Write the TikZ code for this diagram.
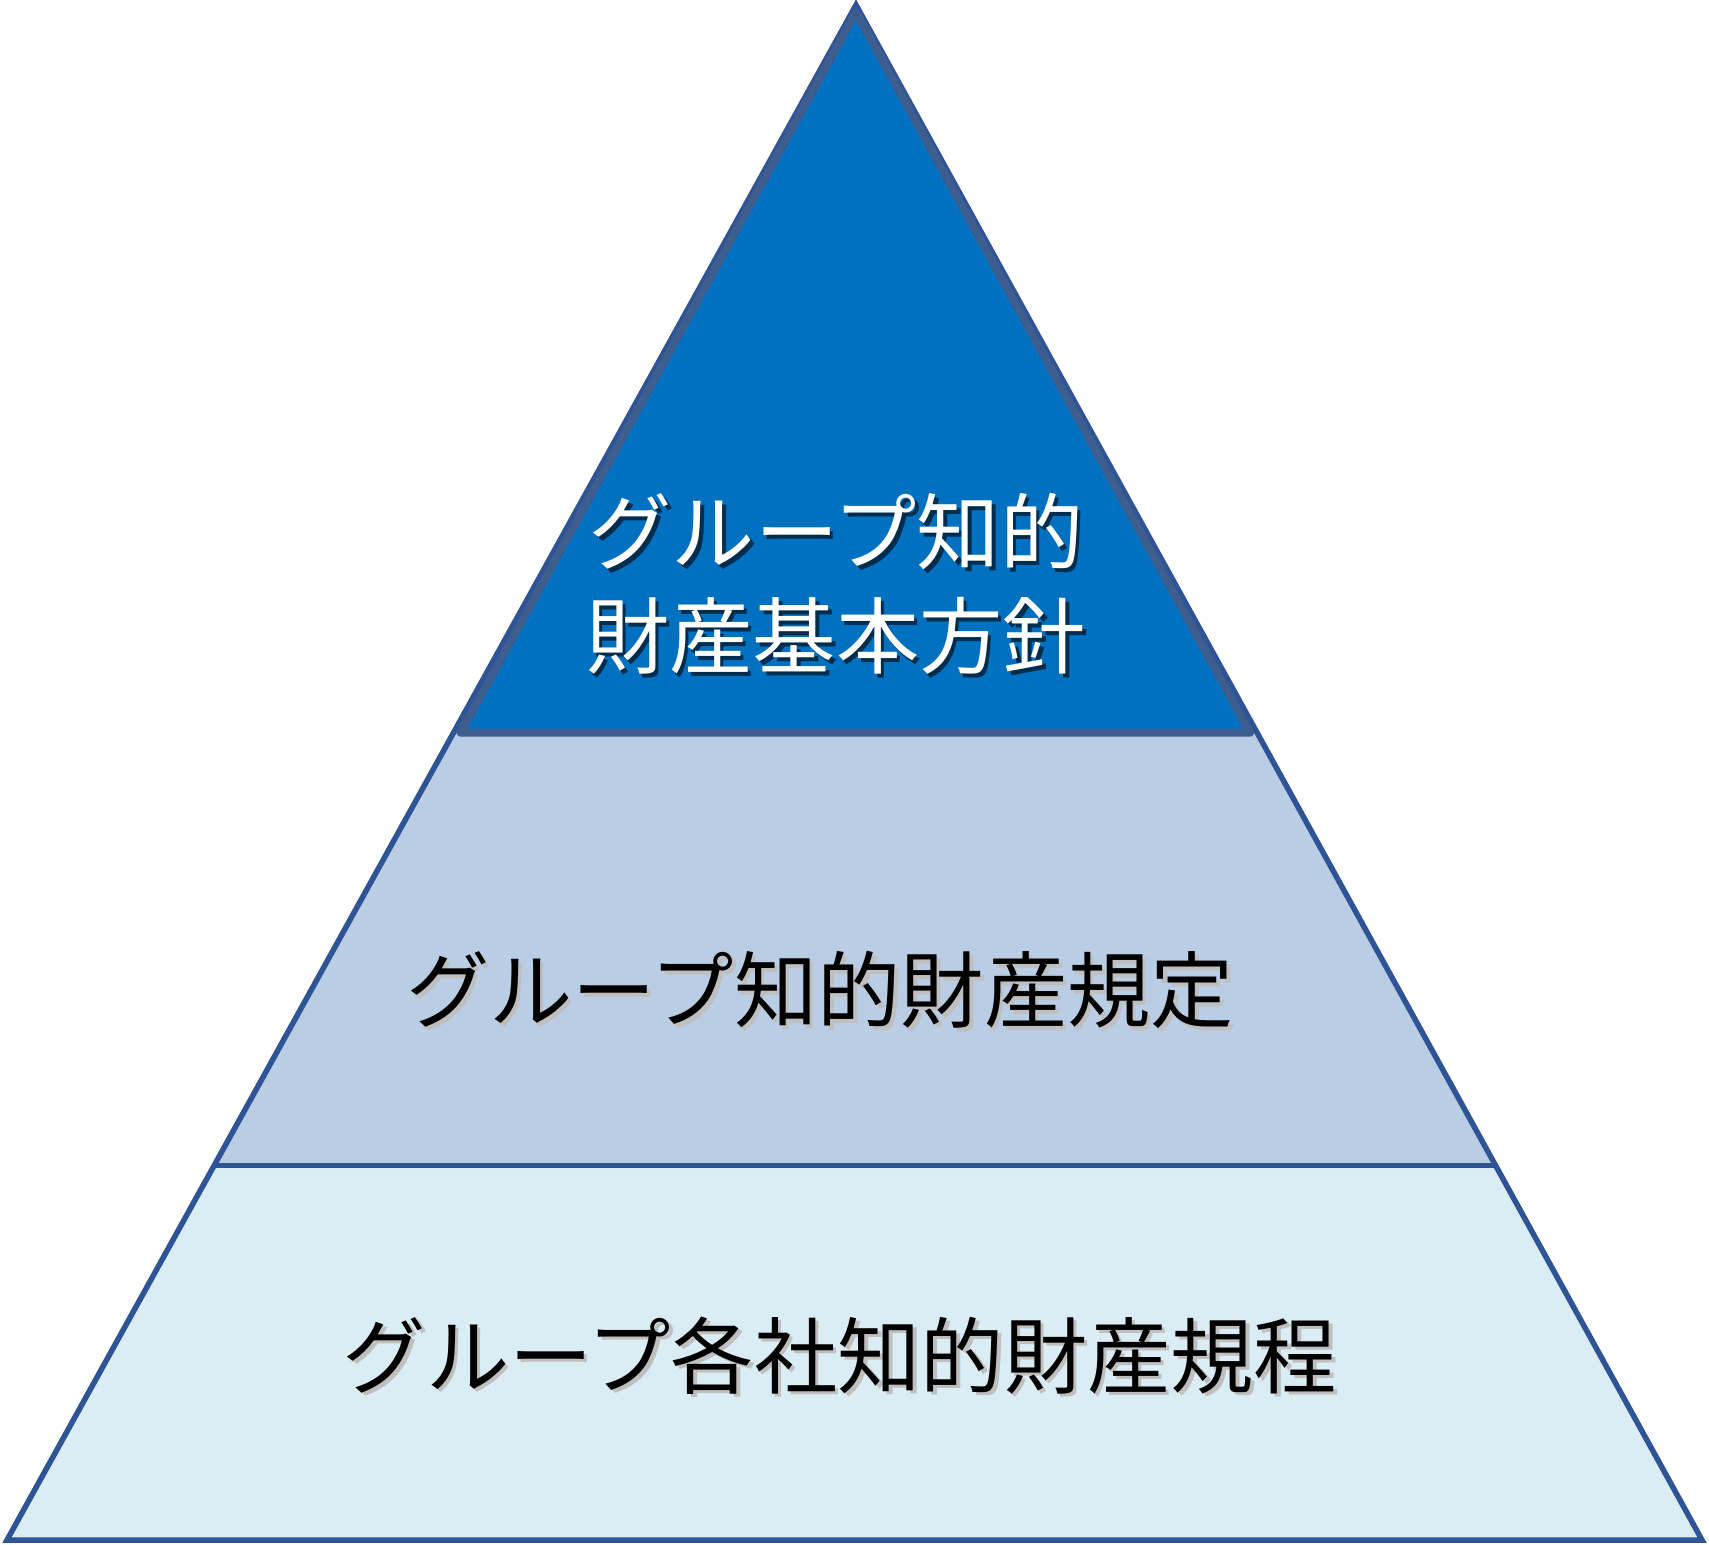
\documentclass[tikz,border=0pt]{standalone}
\usepackage{fontspec}
\setmainfont{Noto Sans CJK JP}
\usetikzlibrary{calc}
\definecolor{TopBlue}{HTML}{0070C0}
\definecolor{TopEdge}{HTML}{3D5D8E}
\definecolor{MidBlue}{HTML}{B9CDE4}
\definecolor{LowBlue}{HTML}{DBEDF4}
\definecolor{Outline}{HTML}{2F5496}
\newcommand{\drop}[2]{\makebox[0pt][l]{\hspace{0.035cm}\raisebox{-0.035cm}{\color{#1}#2}}#2}
\tikzset{
  edge/.style={draw=Outline, line width=0.055cm, line join=miter},
  topedge/.style={draw=TopEdge, line width=0.08cm, line join=round},
  tierlab/.style={font=\fontsize{23.7pt}{29.6pt}\selectfont, align=center,
                  inner sep=0pt},
}
\begin{document}
\begin{tikzpicture}
  \useasboundingbox (0,0) rectangle (17.09,-15.44);
  \coordinate (apex) at (8.56,-0.05);
  \coordinate (bl) at (0.07,-15.40);
  \coordinate (br) at (17.02,-15.40);
  % tier boundaries along the two sides
  \coordinate (tl) at ($(apex)!0.474!(bl)$);
  \coordinate (tr) at ($(apex)!0.474!(br)$);
  \coordinate (ml) at ($(apex)!0.756!(bl)$);
  \coordinate (mr) at ($(apex)!0.756!(br)$);
  % top tier sits a little inside the outline
  \coordinate (ta) at (8.56,-0.12);
  \coordinate (tli) at ($(tl)+(0.07,0)$);
  \coordinate (tri) at ($(tr)+(-0.07,0)$);
  \fill[LowBlue] (ml) -- (mr) -- (br) -- (bl) -- cycle;
  \fill[MidBlue] (tl) -- (tr) -- (mr) -- (ml) -- cycle;
  \fill[TopEdge] (apex) -- (tr) -- (tl) -- cycle;
  \draw[edge] (apex) -- (br) -- (bl) -- cycle;
  \draw[edge] (ml) -- (mr);
  \draw[topedge, fill=TopBlue] (ta) -- (tri) -- (tli) -- cycle;
  \node[tierlab, text=white] (policy) at (8.36,-5.86)
    {\drop{TopBlue!40!black}{グループ知的}\\\drop{TopBlue!40!black}{財産基本方針}};
  \node[tierlab] (rules) at (8.20,-9.92)
    {\drop{black!25}{グループ知的財産規定}};
  \node[tierlab] (regs) at (8.40,-13.57)
    {\drop{black!25}{グループ各社知的財産規程}};
\end{tikzpicture}
\end{document}
